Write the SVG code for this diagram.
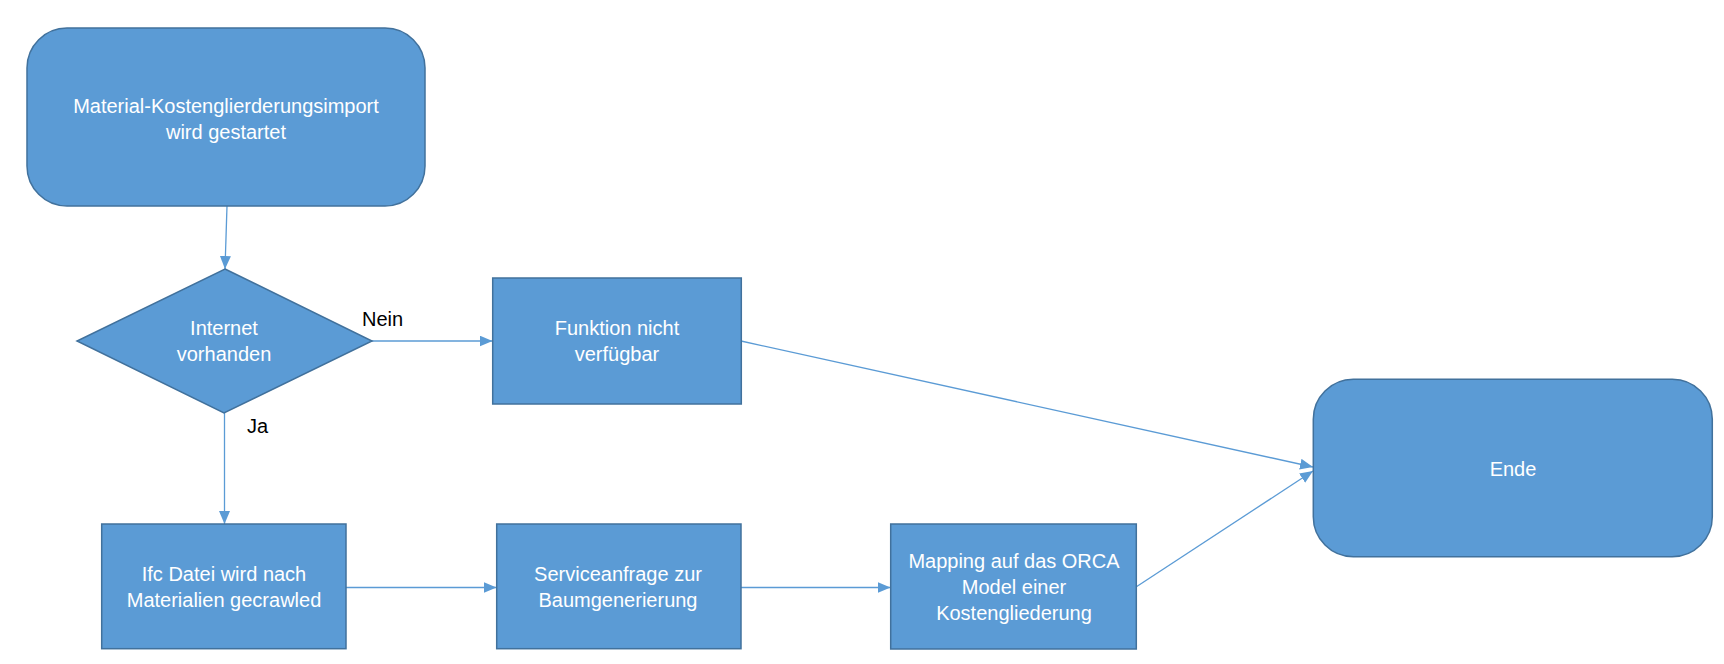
<svg xmlns="http://www.w3.org/2000/svg" width="1724" height="664" viewBox="0 0 1724 664">
<style>
.node{fill:#5B9BD5;stroke:#41719C;stroke-width:1.5}
.lbl{font-family:"Liberation Sans",Arial,sans-serif;font-size:20px;fill:#FFFFFF;text-anchor:middle}
.edge{font-family:"Liberation Sans",Arial,sans-serif;font-size:20px;fill:#000000}
.conn{fill:none;stroke:#5B9BD5;stroke-width:1.3}
</style>
<defs>
<marker id="arrow" markerUnits="userSpaceOnUse" markerWidth="14" markerHeight="12" refX="13" refY="5.5" orient="auto">
<path d="M0,0 L13,5.5 L0,11 z" fill="#5B9BD5"/>
</marker>
</defs>
<rect width="1724" height="664" fill="#FFFFFF"/>
<g id="connectors">
<line class="conn" x1="227" y1="206" x2="225" y2="269" marker-end="url(#arrow)"/>
<line class="conn" x1="372" y1="341" x2="492.5" y2="341" marker-end="url(#arrow)"/>
<line class="conn" x1="224.5" y1="413" x2="224.5" y2="524" marker-end="url(#arrow)"/>
<line class="conn" x1="346" y1="587.5" x2="496.5" y2="587.5" marker-end="url(#arrow)"/>
<line class="conn" x1="741" y1="587.5" x2="890.5" y2="587.5" marker-end="url(#arrow)"/>
<line class="conn" x1="741" y1="341" x2="1313" y2="467" marker-end="url(#arrow)"/>
<line class="conn" x1="1136" y1="587" x2="1313" y2="471" marker-end="url(#arrow)"/>
<text class="edge" x="362" y="326">Nein</text>
<text class="edge" x="247" y="433">Ja</text>
</g>
<g id="start">
<rect class="node" x="27" y="28" width="398" height="178" rx="40" ry="40"/>
<text class="lbl" x="226" y="113">Material-Kostenglierderungsimport</text>
<text class="lbl" x="226" y="139">wird gestartet</text>
</g>
<g id="internet">
<polygon class="node" points="225,269 372,341 224,413 77,341"/>
<text class="lbl" x="224" y="335">Internet</text>
<text class="lbl" x="224" y="361">vorhanden</text>
</g>
<g id="funktion">
<rect class="node" x="492.7" y="278" width="248.6" height="126"/>
<text class="lbl" x="617" y="335">Funktion nicht</text>
<text class="lbl" x="617" y="361">verfügbar</text>
</g>
<g id="ifc">
<rect class="node" x="101.7" y="524" width="244.3" height="124.7"/>
<text class="lbl" x="224" y="581">Ifc Datei wird nach</text>
<text class="lbl" x="224" y="607">Materialien gecrawled</text>
</g>
<g id="service">
<rect class="node" x="496.7" y="524" width="244.3" height="124.7"/>
<text class="lbl" x="618" y="581">Serviceanfrage zur</text>
<text class="lbl" x="618" y="607">Baumgenerierung</text>
</g>
<g id="mapping">
<rect class="node" x="890.7" y="524" width="245.6" height="125"/>
<text class="lbl" x="1014" y="568">Mapping auf das ORCA</text>
<text class="lbl" x="1014" y="594">Model einer</text>
<text class="lbl" x="1014" y="620">Kostengliederung</text>
</g>
<g id="ende">
<rect class="node" x="1313.3" y="379.3" width="399" height="177.4" rx="40" ry="40"/>
<text class="lbl" x="1513" y="476">Ende</text>
</g>
</svg>
